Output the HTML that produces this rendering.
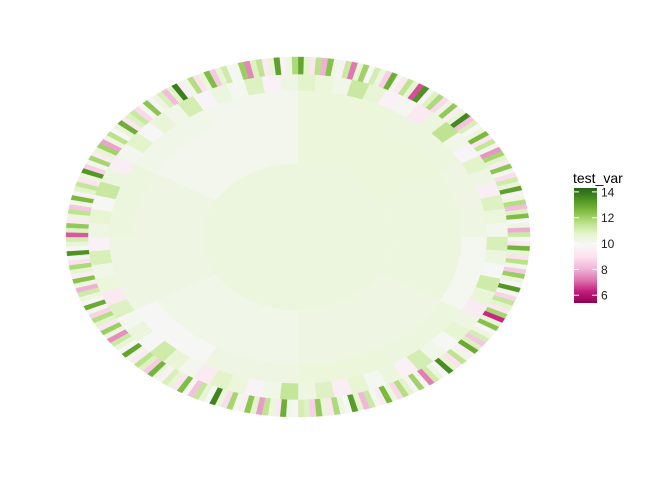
<!DOCTYPE html>
<html><head><meta charset="utf-8"><style>
body{margin:0;background:#fff;}
svg{display:block;font-family:"Liberation Sans",sans-serif;}
</style></head><body>
<svg id="chart" width="672" height="480">
<g id="rings"></g>
<g id="legend">
<defs><linearGradient id="lg" x1="0" y1="1" x2="0" y2="0">
<stop offset="0" stop-color="#8e0152"/><stop offset="0.1" stop-color="#c51b7d"/><stop offset="0.2" stop-color="#de77ae"/><stop offset="0.3" stop-color="#f1b6da"/><stop offset="0.4" stop-color="#fde0ef"/><stop offset="0.5" stop-color="#f7f7f7"/><stop offset="0.6" stop-color="#e6f5d0"/><stop offset="0.7" stop-color="#b8e186"/><stop offset="0.8" stop-color="#7fbc41"/><stop offset="0.9" stop-color="#4d9221"/><stop offset="1" stop-color="#276419"/>
</linearGradient></defs>
<text x="573" y="183" font-size="14" fill="#000">test_var</text>
<rect x="574" y="188" width="23" height="115" fill="url(#lg)"/>
<g id="ticks"></g>
</g>
</svg>
<script>
const ringRadii = [0, 95, 164, 189, 210, 232];
const ring1Values = [10.4];
const ring2Values = [10.5, 10.4, 10.3, 10.2, 10.3, 10.1];
const ring3Values = [10.5, 10.4, 10.3, 10.0, 10.4, 10.5, 10.3, 9.9, 10.3, 10.4, 10.2, 10.1];
const ring4Values = [10.8,10.5,10.2,11.3,10.6,9.6,10.0,9.3,10.4,11.5,10.2,9.7,10.8,10.3,9.5,10.9,10.5,10.1,11.0,10.4,9.8,11.2,10.6,9.4,10.3,10.7,9.9,10.2,11.1,9.6,10.4,10.0,10.7,9.5,10.9,10.3,11.4,10.2,9.7,10.5,10.8,9.4,10.1,10.6,11.2,9.8,10.4,10.0,10.9,9.3,10.5,10.2,11.0,9.6,10.3,10.7,9.9,11.3,10.4,9.5,10.1,10.8,9.8,10.6,10.2,11.1,9.7,10.4,10.0,10.9,9.6,10.3];
const ring5Values = [13.0,10.8,9.2,11.6,8.0,12.4,10.2,9.6,11.3,7.2,10.6,12.0,9.8,11.1,10.4,8.6,12.8,10.0,9.3,11.5,10.7,6.8,13.4,9.7,10.9,11.8,8.8,10.3,12.2,9.5,10.6,13.6,8.3,11.0,9.9,10.5,12.6,9.1,11.4,10.2,7.6,11.9,10.8,9.4,12.3,10.1,8.9,11.2,10.6,13.1,9.6,10.3,11.7,8.2,10.9,12.5,9.8,10.4,7.9,11.3,10.0,9.3,12.7,10.7,9.0,11.6,10.2,8.5,12.1,10.5,9.7,13.3,10.1,8.7,11.4,10.8,9.2,11.9,6.4,10.6,12.4,9.9,10.3,11.1,8.4,10.9,12.9,9.5,10.2,11.5,9.0,10.7,13.5,9.8,10.4,11.2,7.3,10.1,12.0,9.6,10.8,11.7,8.8,10.5,12.6,9.4,10.0,11.3,8.1,10.7,13.2,9.9,10.3,11.8,9.2,10.6,12.2,8.6,10.9,11.1,9.7,10.2,12.8,9.3,10.5,11.5,7.7,10.8,12.3,9.5,10.1,11.9,8.9,10.4,13.7,9.8,10.6,11.4,8.3,10.0,12.5,9.1,10.7,11.0,9.6,10.3,12.7,8.5,10.9,11.6,9.4,10.2,13.0,9.9,10.6,11.3,7.5,10.4,12.1,9.2,10.8,11.7,8.7,10.1,12.9,9.7,10.5,11.2,8.0,10.3,12.4,9.5,10.7,11.8,9.0,10.0,13.4,9.8,10.6,11.1,6.9,10.9,12.2,9.3,10.4,11.5,8.4,10.2,12.6,9.6,10.8,11.4,9.1,10.5,13.3,8.6,10.1,11.9,9.4,10.7,12.0,7.8,10.3,11.6,9.9,10.6,12.8,9.2,10.9,11.3,8.8,10.0,12.3,9.7,10.4,11.0,8.2,10.8,13.8,9.5,10.2,11.7,9.0,10.5,12.5,8.5,10.7,11.2,9.8,10.1,12.1,7.4,10.9,11.5,9.3,10.6,13.1,9.6,10.3,11.8];
const legendTicks = [6, 8, 10, 12, 14];

const rings = [ring1Values, ring2Values, ring3Values, ring4Values, ring5Values];
const cx = 298, cy = 237, sy = 180/232;
const vmin = 5.4, vmax = 14.3;
const pal = ["#8e0152","#c51b7d","#de77ae","#f1b6da","#fde0ef","#f7f7f7","#e6f5d0","#b8e186","#7fbc41","#4d9221","#276419"];
function hex(h){return [1,3,5].map(i=>parseInt(h.substr(i,2),16));}
function color(v){
  let t = Math.max(0, Math.min(1, (v - vmin)/(vmax - vmin))) * 10;
  let i = Math.min(9, Math.floor(t)), f = t - i;
  const a = hex(pal[i]), b = hex(pal[i+1]);
  return "rgb(" + a.map((c,k)=>Math.round(c + (b[k]-c)*f)).join(",") + ")";
}
function pt(r, ang){ return [cx + r*Math.sin(ang), cy - r*sy*Math.cos(ang)]; }
const g = document.getElementById('rings');
const NS = "http://www.w3.org/2000/svg";
rings.forEach((vals, ri) => {
  const r0 = ringRadii[ri], r1 = ringRadii[ri+1];
  const n = vals.length;
  vals.forEach((v, i) => {
    const a0 = 2*Math.PI*i/n, a1 = 2*Math.PI*(i+1)/n;
    let d;
    if (n === 1) {
      d = `M${cx-r1},${cy} A${r1},${r1*sy} 0 1 1 ${cx+r1},${cy} A${r1},${r1*sy} 0 1 1 ${cx-r1},${cy}Z`;
    } else {
      const large = (a1 - a0) > Math.PI ? 1 : 0;
      const p0 = pt(r1,a0), p1 = pt(r1,a1), p2 = pt(r0,a1), p3 = pt(r0,a0);
      d = `M${p0} A${r1},${r1*sy} 0 ${large} 1 ${p1} L${p2} ` + (r0>0 ? `A${r0},${r0*sy} 0 ${large} 0 ${p3}` : '') + 'Z';
    }
    const p = document.createElementNS(NS, 'path');
    p.setAttribute('d', d);
    p.setAttribute('fill', color(v));
    p.setAttribute('stroke', color(v));
    p.setAttribute('stroke-width', '0.4');
    
    
    g.appendChild(p);
  });
});
const tg = document.getElementById('ticks');
legendTicks.forEach(t => {
  const y = 188 + (vmax - t)/(vmax - vmin)*115;
  [574, 592].forEach(x => {
    const l = document.createElementNS(NS, 'line');
    l.setAttribute('x1', x); l.setAttribute('x2', x+5);
    l.setAttribute('y1', y); l.setAttribute('y2', y);
    l.setAttribute('stroke', '#fff'); l.setAttribute('stroke-width', '1');
    
    
    tg.appendChild(l);
  });
  const tx = document.createElementNS(NS, 'text');
  tx.setAttribute('x', 601); tx.setAttribute('y', y + 4.5);
  tx.setAttribute('font-size', '12'); tx.setAttribute('fill', '#1a1a1a');
  tx.textContent = t;
  
  
  tg.appendChild(tx);
});
</script>
</body></html>
